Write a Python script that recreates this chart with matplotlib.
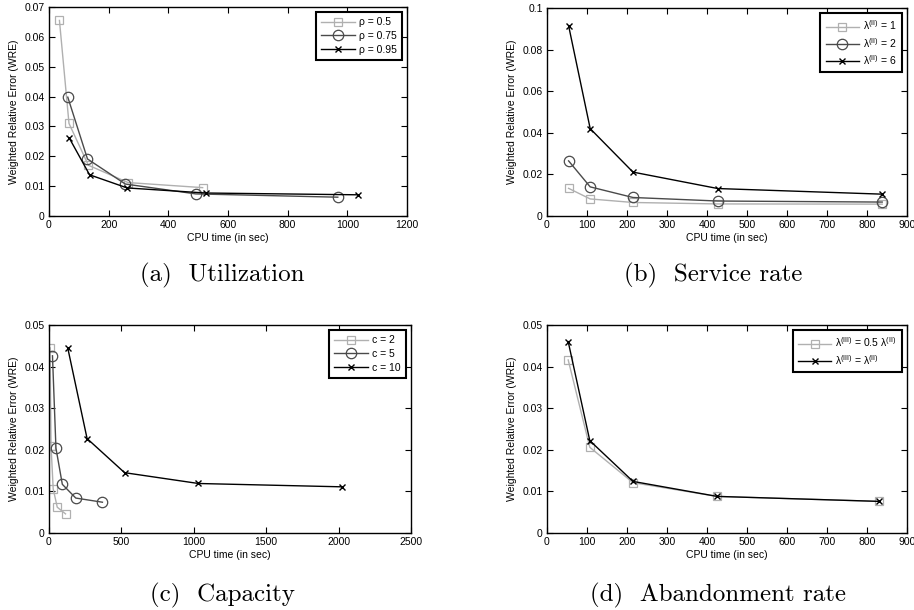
import matplotlib
matplotlib.use("Agg")
import matplotlib.pyplot as plt
from matplotlib.ticker import FormatStrFormatter, MultipleLocator

plt.rcParams['font.family'] = ['Liberation Sans', 'DejaVu Sans']
plt.rcParams['mathtext.fontset'] = 'custom'
plt.rcParams['mathtext.rm'] = 'Liberation Sans'
plt.rcParams['mathtext.it'] = 'Liberation Sans:italic'

# (a) Utilization
a_x_05 = [35, 67, 132, 265, 515]
a_y_05 = [0.0655, 0.0310, 0.0170, 0.0112, 0.0095]
a_x_075 = [63, 129, 256, 492, 968]
a_y_075 = [0.0398, 0.0191, 0.0107, 0.0074, 0.0063]
a_x_095 = [68, 136, 262, 525, 1035]
a_y_095 = [0.0261, 0.0138, 0.0094, 0.0077, 0.0071]
a_labels = ['ρ = 0.5', 'ρ = 0.75', 'ρ = 0.95']

# (b) Service rate
b_x = [54, 108, 215, 427, 838]
b_y_1 = [0.0133, 0.0082, 0.0065, 0.0058, 0.0057]
b_y_2 = [0.0265, 0.0140, 0.0089, 0.0072, 0.0067]
b_y_6 = [0.0915, 0.0420, 0.0211, 0.0132, 0.0105]
b_labels = [r'λ$^{\mathrm{(II)}}$ = 1', r'λ$^{\mathrm{(II)}}$ = 2', r'λ$^{\mathrm{(II)}}$ = 6']

# (c) Capacity
c_x_2 = [7, 14, 29, 57, 114]
c_y_2 = [0.0445, 0.0210, 0.0106, 0.0062, 0.0046]
c_x_5 = [24, 48, 92, 185, 369]
c_y_5 = [0.0426, 0.0204, 0.0117, 0.0084, 0.0074]
c_x_10 = [130, 263, 522, 1032, 2022]
c_y_10 = [0.0444, 0.0227, 0.0145, 0.0119, 0.0111]
c_labels = ['c = 2', 'c = 5', 'c = 10']

# (d) Abandonment rate
d_x = [53, 107, 215, 425, 830]
d_y_half = [0.0416, 0.0206, 0.0121, 0.0088, 0.0076]
d_y_full = [0.0460, 0.0222, 0.0124, 0.0088, 0.0076]
d_labels = [r'λ$^{\mathrm{(III)}}$ = 0.5 λ$^{\mathrm{(II)}}$', r'λ$^{\mathrm{(III)}}$ = λ$^{\mathrm{(II)}}$']

captions = ['(a)  Utilization', '(b)  Service rate', '(c)  Capacity', '(d)  Abandonment rate']

C_SQ = '#b0b0b0'
C_CI = '#4a4a4a'
C_X = '#000000'

fig = plt.figure(figsize=(9.14, 6.10), dpi=100)
W, H = 914, 610

def make_ax(l, t, r, b):
    return fig.add_axes([l / W, 1 - b / H, (r - l) / W, (b - t) / H])

axA = make_ax(49, 7, 407, 216)
axB = make_ax(547, 8, 907, 216)
axC = make_ax(49, 325, 411, 533)
axD = make_ax(547, 325, 907, 533)

sq = dict(marker='s', color=C_SQ, mfc='none', mec=C_SQ, ms=5.5, lw=1.0, mew=0.9)
ci = dict(marker='o', color=C_CI, mfc='none', mec=C_CI, ms=7.5, lw=1.0, mew=0.9)
xx = dict(marker='x', color=C_X, mfc='none', mec=C_X, ms=4.5, lw=1.0, mew=1.0)

axA.plot(a_x_05, a_y_05, label=a_labels[0], **sq)
axA.plot(a_x_075, a_y_075, label=a_labels[1], **ci)
axA.plot(a_x_095, a_y_095, label=a_labels[2], **xx)

axB.plot(b_x, b_y_1, label=b_labels[0], **sq)
axB.plot(b_x, b_y_2, label=b_labels[1], **ci)
axB.plot(b_x, b_y_6, label=b_labels[2], **xx)

axC.plot(c_x_2, c_y_2, label=c_labels[0], **sq)
axC.plot(c_x_5, c_y_5, label=c_labels[1], **ci)
axC.plot(c_x_10, c_y_10, label=c_labels[2], **xx)

axD.plot(d_x, d_y_half, label=d_labels[0], **sq)
axD.plot(d_x, d_y_full, label=d_labels[1], **xx)

settings = [
    (axA, (0, 1200), 200, (0, 0.07), 0.01),
    (axB, (0, 900), 100, (0, 0.1), 0.02),
    (axC, (0, 2500), 500, (0, 0.05), 0.01),
    (axD, (0, 900), 100, (0, 0.05), 0.01),
]
for ax, xl, xs, yl, ys in settings:
    ax.set_xlim(*xl)
    ax.set_ylim(*yl)
    ax.xaxis.set_major_locator(MultipleLocator(xs))
    ax.yaxis.set_major_locator(MultipleLocator(ys))
    ax.yaxis.set_major_formatter(FormatStrFormatter('%g'))
    ax.xaxis.set_major_formatter(FormatStrFormatter('%g'))
    ax.tick_params(direction='in', top=True, right=True, length=4, width=0.8,
                   labelsize=7.5, pad=3)
    for s in ax.spines.values():
        s.set_linewidth(1.0)
    ax.set_xlabel('CPU time (in sec)', fontsize=7.5, labelpad=2)
    ax.set_ylabel('Weighted Relative Error (WRE)', fontsize=7.5, labelpad=4)
    leg = ax.legend(loc='upper right', fontsize=7.5, frameon=True, fancybox=False,
                    edgecolor='black', framealpha=1, borderaxespad=0.5,
                    handlelength=3.2, handletextpad=0.4, labelspacing=0.35,
                    borderpad=0.5)
    leg.get_frame().set_linewidth(1.5)

cap_pos = [(222, 275), (713, 275), (222, 595), (718, 595)]
for txt, (cx, cy) in zip(captions, cap_pos):
    fig.text(cx / W, 1 - cy / H, txt, ha='center', va='center',
             fontsize=18, family='cmr10')

fig.savefig('out.png', dpi=100)
